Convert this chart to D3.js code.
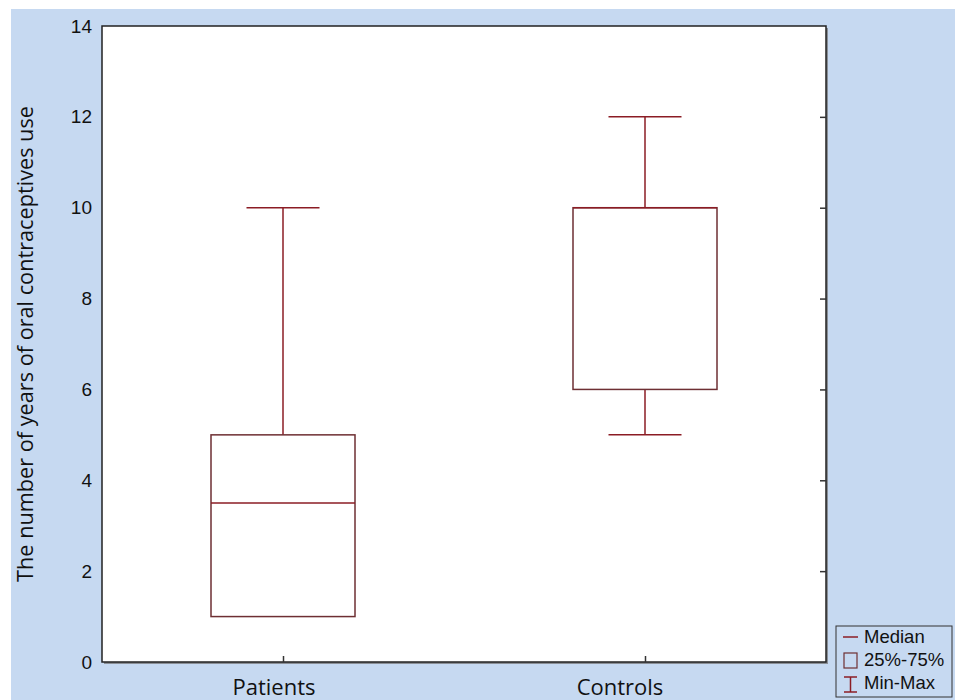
<!DOCTYPE html>
<html>
<head>
<meta charset="utf-8">
<script src="https://cdn.jsdelivr.net/npm/d3@7"></script>
<style>
  body { margin: 0; background: #fff; }
  svg { display: block; }
</style>
</head>
<body>
<script>
var groups = ["Patients", "Controls"];
var minVals = [1, 5];
var q1Vals = [1, 6];
var medianVals = [3.5, 10];
var q3Vals = [5, 10];
var maxVals = [10, 12];
var yTicks = [0, 2, 4, 6, 8, 10, 12, 14];
var legendLabels = ["Median", "25%-75%", "Min-Max"];

var width = 955, height = 700;
var margin = {left: 102, top: 26, right: 826, bottom: 662};
var boxColor = "#6e2f33";
var lineColor = "#8b1c24";
// category labels in the original sit a little left of their ticks
var labelShift = {"Patients": -9, "Controls": -25};

var svg = d3.select("body").append("svg")
    .attr("width", width)
    .attr("height", height);

// blue backdrop
svg.append("rect")
    .attr("x", 11).attr("y", 9)
    .attr("width", width - 11).attr("height", height - 9)
    .attr("fill", "#c6d9f1");

var x = d3.scalePoint()
    .domain(groups)
    .range([margin.left, margin.right])
    .padding(0.5);

var y = d3.scaleLinear()
    .domain([0, 14])
    .range([margin.bottom, margin.top]);

// shadow + plot frame
svg.append("rect")
    .attr("x", margin.left + 2).attr("y", margin.top + 2)
    .attr("width", margin.right - margin.left).attr("height", margin.bottom - margin.top)
    .attr("fill", "#8a8f96");
svg.append("rect")
    .attr("x", margin.left).attr("y", margin.top)
    .attr("width", margin.right - margin.left).attr("height", margin.bottom - margin.top)
    .attr("fill", "#fff")
    .attr("stroke", "#222")
    .attr("stroke-width", 1.5);

// y axis labels on the left, ticks inside on the right
var yAxisLeft = d3.axisLeft(y).tickValues(yTicks).tickSize(0).tickPadding(10);
svg.append("g")
    .attr("transform", "translate(" + margin.left + ",0)")
    .call(yAxisLeft)
    .call(function(g) {
      g.select(".domain").remove();
      g.selectAll("text").style("font", "19px 'Liberation Sans', Arial, sans-serif").attr("fill", "#111");
    });

var yAxisRight = d3.axisLeft(y).tickValues(yTicks.slice(1, -1)).tickSize(6).tickFormat("");
svg.append("g")
    .attr("transform", "translate(" + margin.right + ",0)")
    .call(yAxisRight)
    .call(function(g) {
      g.select(".domain").remove();
      g.selectAll("line").attr("stroke", "#333").attr("stroke-width", 1.5);
    });

var xAxis = d3.axisTop(x).tickSize(6).tickFormat("");
svg.append("g")
    .attr("transform", "translate(0," + margin.bottom + ")")
    .call(xAxis)
    .call(function(g) {
      g.select(".domain").remove();
      g.selectAll("line").attr("stroke", "#333").attr("stroke-width", 1.5);
    });

svg.selectAll(".xlab")
    .data(groups)
    .enter().append("text")
    .attr("class", "xlab")
    .attr("x", function(d) { return x(d) + labelShift[d]; })
    .attr("y", 695)
    .attr("text-anchor", "middle")
    .style("font", "22px 'Open Sans', sans-serif")
    .attr("fill", "#111")
    .text(function(d) { return d; });

svg.append("text")
    .attr("transform", "translate(33,344) rotate(-90)")
    .attr("text-anchor", "middle")
    .style("font", "21.7px 'Open Sans', sans-serif")
    .attr("fill", "#111")
    .text("The number of years of oral contraceptives use");

// boxes
var boxW = 144, capW = 73;
var data = groups.map(function(g, i) {
  return {name: g, min: minVals[i], q1: q1Vals[i], med: medianVals[i], q3: q3Vals[i], max: maxVals[i]};
});

var bx = svg.append("g").selectAll("g").data(data).enter().append("g");

bx.append("line")
    .attr("x1", function(d) { return x(d.name); })
    .attr("x2", function(d) { return x(d.name); })
    .attr("y1", function(d) { return y(d.q3); })
    .attr("y2", function(d) { return y(d.max); })
    .attr("stroke", lineColor).attr("stroke-width", 1.5);
bx.append("line")
    .attr("x1", function(d) { return x(d.name); })
    .attr("x2", function(d) { return x(d.name); })
    .attr("y1", function(d) { return y(d.q1); })
    .attr("y2", function(d) { return y(d.min); })
    .attr("stroke", lineColor).attr("stroke-width", 1.5);
bx.append("line")
    .attr("x1", function(d) { return x(d.name) - capW / 2; })
    .attr("x2", function(d) { return x(d.name) + capW / 2; })
    .attr("y1", function(d) { return y(d.max); })
    .attr("y2", function(d) { return y(d.max); })
    .attr("stroke", lineColor).attr("stroke-width", 1.5);
bx.filter(function(d) { return d.min < d.q1; }).append("line")
    .attr("x1", function(d) { return x(d.name) - capW / 2; })
    .attr("x2", function(d) { return x(d.name) + capW / 2; })
    .attr("y1", function(d) { return y(d.min); })
    .attr("y2", function(d) { return y(d.min); })
    .attr("stroke", lineColor).attr("stroke-width", 1.5);
bx.append("rect")
    .attr("x", function(d) { return x(d.name) - boxW / 2; })
    .attr("y", function(d) { return y(d.q3); })
    .attr("width", boxW)
    .attr("height", function(d) { return y(d.q1) - y(d.q3); })
    .attr("fill", "none")
    .attr("stroke", boxColor).attr("stroke-width", 1.5);
bx.append("line")
    .attr("x1", function(d) { return x(d.name) - boxW / 2; })
    .attr("x2", function(d) { return x(d.name) + boxW / 2; })
    .attr("y1", function(d) { return y(d.med); })
    .attr("y2", function(d) { return y(d.med); })
    .attr("stroke", lineColor).attr("stroke-width", 1.5);

// legend
var lg = svg.append("g").attr("transform", "translate(836,626)");
lg.append("rect")
    .attr("width", 116).attr("height", 71)
    .attr("fill", "none").attr("stroke", "#333").attr("stroke-width", 1);
lg.append("line").attr("x1", 7).attr("x2", 22).attr("y1", 11).attr("y2", 11)
    .attr("stroke", lineColor).attr("stroke-width", 1.5);
lg.append("rect").attr("x", 8).attr("y", 27).attr("width", 13).attr("height", 15)
    .attr("fill", "none").attr("stroke", boxColor).attr("stroke-width", 1.2);
lg.append("line").attr("x1", 14.5).attr("x2", 14.5).attr("y1", 51).attr("y2", 66)
    .attr("stroke", lineColor).attr("stroke-width", 1.5);
lg.append("line").attr("x1", 8).attr("x2", 21).attr("y1", 51).attr("y2", 51)
    .attr("stroke", lineColor).attr("stroke-width", 1.5);
lg.append("line").attr("x1", 8).attr("x2", 21).attr("y1", 66).attr("y2", 66)
    .attr("stroke", lineColor).attr("stroke-width", 1.5);
lg.selectAll("text").data(legendLabels).enter().append("text")
    .attr("x", 28)
    .attr("y", function(d, i) { return 17 + i * 23; })
    .style("font", "18.5px 'Liberation Sans', Arial, sans-serif")
    .attr("fill", "#111")
    .text(function(d) { return d; });
</script>
</body>
</html>
